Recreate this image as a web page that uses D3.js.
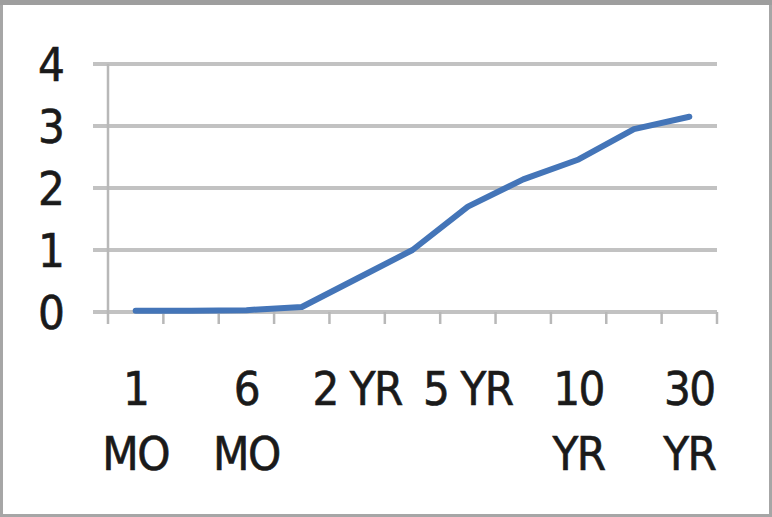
<!DOCTYPE html>
<html><head><meta charset="utf-8">
<script src="https://cdn.jsdelivr.net/npm/d3@7"></script>
<style>
html,body{margin:0;padding:0;background:#fff;}
svg text{font-family:"DejaVu Sans Condensed","Liberation Sans",sans-serif;fill:#1a1a1a;stroke:#1a1a1a;stroke-width:0.6;}
</style></head>
<body>
<svg id="c" width="772" height="517"></svg>
<script>
const categories = ["1 MO","3 MO","6 MO","1 YR","2 YR","3 YR","5 YR","7 YR","10 YR","20 YR","30 YR"];
const yields = [0.02, 0.02, 0.03, 0.08, 0.54, 1.0, 1.70, 2.14, 2.46, 2.95, 3.15];
const yTicks = [0, 1, 2, 3, 4];
const shownLabels = [["1","MO"],null,["6","MO"],null,["2 YR"],null,["5 YR"],null,["10","YR"],null,["30","YR"]];

const svg = d3.select("#c");
const W = 772, H = 517;
svg.append("rect").attr("x",1.5).attr("y",1.5).attr("width",W-3).attr("height",H-3)
  .attr("fill","#fff").attr("stroke","#a6a6a6").attr("stroke-width",3);
svg.append("rect").attr("x",0).attr("y",0).attr("width",W).attr("height",5).attr("fill","#9e9e9e");

const mL = 108, mR = 717, mT = 64, mB = 312;
const x = d3.scaleBand().domain(categories).range([mL, mR]).paddingInner(0).paddingOuter(0);
const y = d3.scaleLinear().domain([0, 4]).range([mB, mT]);

// gridlines
svg.append("g").selectAll("line").data(yTicks).join("line")
  .attr("x1", mL - 15).attr("x2", mR)
  .attr("y1", d => y(d)).attr("y2", d => y(d))
  .attr("stroke", "#c2c2c2").attr("stroke-width", 4);

// y axis line
svg.append("line").attr("x1", mL).attr("x2", mL).attr("y1", mT).attr("y2", mB + 12)
  .attr("stroke", "#b8b8b8").attr("stroke-width", 2.5);

// x tick marks at band boundaries
const bounds = categories.map(c => x(c)).concat([mR]);
svg.append("g").selectAll("line").data(bounds.slice(1)).join("line")
  .attr("x1", d => d).attr("x2", d => d).attr("y1", mB).attr("y2", mB + 12)
  .attr("stroke", "#b8b8b8").attr("stroke-width", 2.5);

// y labels
svg.append("g").selectAll("text").data(yTicks).join("text")
  .attr("x", 65).attr("y", d => y(d)).attr("dy", "0.36em")
  .attr("text-anchor", "end").attr("font-size", 47)
  .text(d => d);

// x labels
const xl = svg.append("g");
categories.forEach((c, i) => {
  const lab = shownLabels[i];
  if (!lab) return;
  const cx = x(c) + x.bandwidth() / 2;
  lab.forEach((t, j) => {
    xl.append("text").attr("x", cx).attr("y", 405 + j * 65)
      .attr("text-anchor", "middle").attr("font-size", 47)
      .attr("letter-spacing", -1.5).text(t);
  });
});

// line
const line = d3.line().x((d, i) => x(categories[i]) + x.bandwidth() / 2).y(d => y(d));
svg.append("path").datum(yields).attr("d", line)
  .attr("fill", "none").attr("stroke", "#4475b8").attr("stroke-width", 6)
  .attr("stroke-linejoin", "round").attr("stroke-linecap", "round");
</script>
</body></html>
